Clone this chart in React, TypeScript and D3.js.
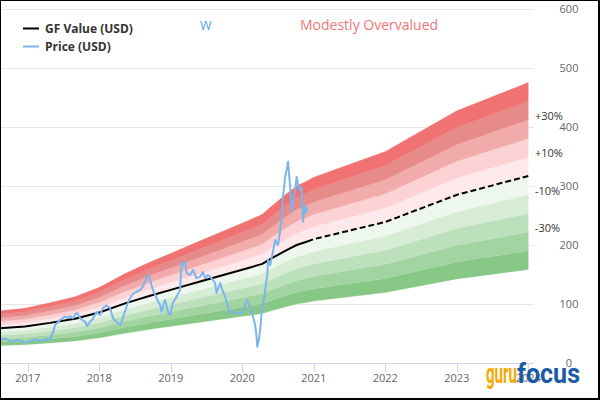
import React from "react";
import * as d3 from "d3";

// ---- data (decimal years) ----
const years = [2017, 2018, 2019, 2020, 2021, 2022, 2023, 2024];
const yTicks = [0, 100, 200, 300, 400, 500, 600];

const priceDates = [
  2016.61, 2016.67, 2016.71, 2016.75, 2016.79, 2016.85, 2016.89, 2016.95, 2016.99, 2017.03,
  2017.07, 2017.13, 2017.17, 2017.23, 2017.27, 2017.31, 2017.35, 2017.38, 2017.41, 2017.45,
  2017.49, 2017.52, 2017.56, 2017.59, 2017.63, 2017.68, 2017.70, 2017.73, 2017.76, 2017.80,
  2017.83, 2017.87, 2017.91, 2017.96, 2018.01, 2018.05, 2018.10, 2018.15, 2018.19, 2018.24,
  2018.29, 2018.33, 2018.38, 2018.43, 2018.47, 2018.52, 2018.57, 2018.61, 2018.66, 2018.68,
  2018.71, 2018.75, 2018.80, 2018.85, 2018.87, 2018.89, 2018.92, 2018.96, 2018.99, 2019.03,
  2019.08, 2019.13, 2019.15, 2019.17, 2019.20, 2019.22, 2019.27, 2019.31, 2019.36, 2019.41,
  2019.45, 2019.48, 2019.52, 2019.55, 2019.59, 2019.62, 2019.64, 2019.69, 2019.72, 2019.76,
  2019.80, 2019.83, 2019.88, 2019.94, 2020.01, 2020.06, 2020.11, 2020.15, 2020.18, 2020.20,
  2020.21, 2020.23, 2020.25, 2020.27, 2020.29, 2020.32, 2020.35, 2020.36, 2020.39, 2020.42,
  2020.46, 2020.50, 2020.53, 2020.55, 2020.57, 2020.60, 2020.62, 2020.64, 2020.65, 2020.67,
  2020.69, 2020.71, 2020.74, 2020.76, 2020.78, 2020.81, 2020.83, 2020.85, 2020.87, 2020.89,
  2020.91,
];
const priceValues = [
  39.0, 41.5, 40.2, 37.3, 36.1, 39.0, 37.8, 35.6, 35.1, 37.3,
  39.0, 39.8, 37.3, 39.0, 41.2, 40.2, 50.8, 64.4, 67.8, 72.9,
  76.3, 78.5, 76.3, 79.7, 75.8, 84.7, 83.1, 76.3, 72.9, 70.0,
  62.7, 70.0, 74.6, 86.4, 81.4, 93.2, 97.5, 93.2, 76.3, 69.5,
  64.4, 76.3, 95.4, 110.2, 116.9, 120.8, 123.7, 129.3, 144.1, 149.2,
  140.7, 123.7, 110.2, 98.3, 86.9, 96.6, 106.8, 86.9, 81.4, 101.7,
  112.4, 123.7, 169.5, 166.1, 171.7, 152.5, 149.2, 157.6, 144.1, 146.3,
  154.2, 144.1, 149.2, 146.3, 140.7, 135.6, 118.6, 135.6, 123.7, 112.4,
  95.4, 84.7, 88.1, 83.1, 86.4, 106.8, 96.6, 78.5, 64.4, 44.6,
  27.6, 39.0, 55.9, 84.7, 98.3, 123.7, 149.2, 174.6, 166.1, 183.1,
  208.5, 200.0, 225.4, 248.0, 281.9, 315.8, 327.1, 341.2, 327.1, 296.6,
  256.4, 276.3, 293.2, 315.8, 301.7, 293.2, 298.3, 239.5, 267.8, 254.2,
  262.7,
];

const gfDates = [
  2016.61, 2016.96, 2017.31, 2017.66, 2018.01, 2018.36, 2018.71, 2019.06, 2019.41, 2019.76,
  2020.11, 2020.28, 2020.42, 2020.60, 2020.76, 2020.91, 2021.0, 2022.0, 2023.0, 2024.0,
];
const gfValues = [
  59, 62, 68, 75, 86, 101, 114, 126, 138, 150,
  162, 168, 178, 190, 200, 206, 210, 239, 285, 317,
];
const lastActualDate = 2020.91;

const bandLevels = [0.5, 0.6, 0.7, 0.8, 0.9, 1.0, 1.1, 1.2, 1.3, 1.4];
const bandColors = [
  "#87c887", "#a2d4a1", "#bde0bc", "#d6ecd5", "#eef7ee",
  "#fde9eb", "#fdd2d5", "#f1abab", "#e78a8a", "#f07272",
];
const pctLabels = ["+30%", "+10%", "-10%", "-30%"];
const pctLevels = [0.3, 0.1, -0.1, -0.3];

const ticker = "W";
const verdict = "Modestly Overvalued";
const legendNames = ["GF Value (USD)", "Price (USD)"];

const FONT = "'Open Sans', 'Noto Sans', sans-serif";

export default function App() {
  const plotRight = 534;
  const x = d3.scaleLinear().domain([2016.611, 2024.08]).range([0, plotRight]);
  const y = d3.scaleLinear().domain([0, 600]).range([363, 9]);

  const gf = gfDates.map((t, i) => ({ t, v: gfValues[i] }));
  const price = priceDates.map((t, i) => ({ t, v: priceValues[i] }));
  const gfSolid = gf.filter((d) => d.t <= lastActualDate);
  const gfDashed = gf.filter((d) => d.t >= lastActualDate);
  const lastGf = gfValues[gfValues.length - 1];
  const lastDate = gfDates[gfDates.length - 1];

  const line = d3
    .line<{ t: number; v: number }>()
    .x((d) => x(d.t))
    .y((d) => y(d.v));

  const bands = bandLevels.map((lo, i) =>
    d3
      .area<{ t: number; v: number }>()
      .x((d) => x(d.t))
      .y0((d) => y(d.v * lo))
      .y1((d) => y(d.v * (lo + 0.1)))(gf)
  );

  return (
    <svg
      width={600}
      height={420}
      style={{ position: "absolute", left: 0, top: 0, background: "#fff" }}
      fontFamily={FONT}
    >
      <rect x={0} y={0} width={600} height={420} fill="#fff" />
      {/* grid */}
      {yTicks.slice(1).map((v) => (
        <line
          key={"g" + v}
          x1={0}
          x2={plotRight}
          y1={Math.round(y(v)) + 0.5}
          y2={Math.round(y(v)) + 0.5}
          stroke="#e6e6e6"
          strokeWidth={1}
        />
      ))}
      {/* bands */}
      {bands.map((p, i) => (
        <path key={"b" + i} d={p || ""} fill={bandColors[i]} stroke={bandColors[i]} strokeWidth={0.3} />
      ))}
      {/* x axis */}
      <line x1={0} x2={plotRight} y1={363.5} y2={363.5} stroke="#ccd6eb" strokeWidth={1} />
      {years.map((yr) => (
        <line
          key={"t" + yr}
          x1={Math.round(x(yr)) + 0.5}
          x2={Math.round(x(yr)) + 0.5}
          y1={363}
          y2={372}
          stroke="#ccd6eb"
          strokeWidth={1}
        />
      ))}
      {years.map((yr) => (
        <text key={"xl" + yr} x={x(yr)} y={382} fontSize={11} fill="#666" textAnchor="middle">
          {yr}
        </text>
      ))}
      {yTicks.map((v) => (
        <text key={"yl" + v} x={569} y={y(v) + 4} fontSize={11} fill="#666" textAnchor="middle">
          {v}
        </text>
      ))}
      {/* percentage labels */}
      {pctLabels.map((lab, i) => (
        <text key={"p" + i} x={535} y={y(lastGf * (1 + pctLevels[i]))} fontSize={11} fill="#333">
          {lab}
        </text>
      ))}
      {/* GF value line */}
      <path d={line(gfSolid) || ""} fill="none" stroke="#000" strokeWidth={2} strokeLinejoin="round" />
      <path d={line(gfDashed) || ""} fill="none" stroke="#000" strokeWidth={2} strokeDasharray="6,3" />
      {/* price */}
      <path
        d={line(price) || ""}
        fill="none"
        stroke="#7cb5ec"
        strokeWidth={2}
        strokeLinejoin="round"
        strokeLinecap="round"
      />
      {/* titles */}
      <text x={200} y={30} fontSize={12.5} fill="#4f9ff0">
        {ticker}
      </text>
      <text x={300} y={30} fontSize={14} fill="#f07878">
        {verdict}
      </text>
      {/* legend */}
      <line x1={23} x2={39} y1={28.5} y2={28.5} stroke="#000" strokeWidth={2} />
      <text x={45} y={33} fontSize={12} fontWeight="bold" fill="#333">
        {legendNames[0]}
      </text>
      <line x1={23} x2={39} y1={46.5} y2={46.5} stroke="#7cb5ec" strokeWidth={2} />
      <text x={45} y={51} fontSize={12} fontWeight="bold" fill="#333">
        {legendNames[1]}
      </text>
      {/* logo */}
      <text
        x={486}
        y={383}
        fontSize={27}
        fontWeight="bold"
        fill="#f5a800"
        fontFamily="'Liberation Sans Narrow', 'Roboto', sans-serif"
        textLength={31}
        lengthAdjust="spacingAndGlyphs"
      >
        guru
      </text>
      <text
        x={517}
        y={383}
        fontSize={27}
        fontWeight="bold"
        fill="#1a5aa6"
        fontFamily="'Liberation Sans Narrow', 'Roboto', sans-serif"
        textLength={63}
        lengthAdjust="spacingAndGlyphs"
      >
        focus
      </text>
      {/* frame */}
      <rect x={0} y={0} width={599} height={399} fill="none" stroke="#000" strokeWidth={2} />
      <desc>{"last " + lastDate}</desc>
    </svg>
  );
}
